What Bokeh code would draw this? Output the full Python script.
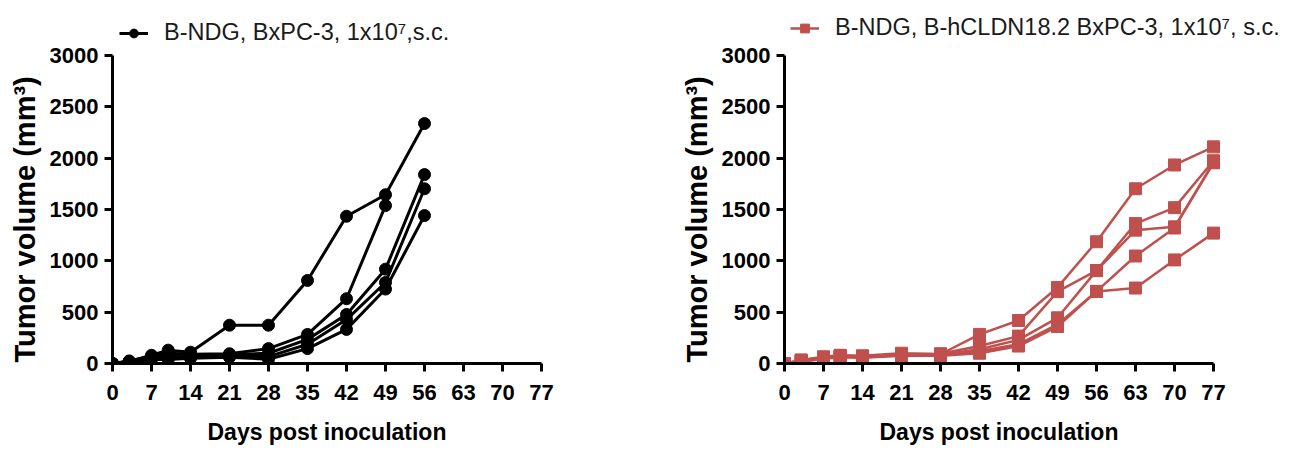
from bokeh.plotting import figure
from bokeh.models import FixedTicker, Legend, LegendItem, Title
from bokeh.layouts import row
from bokeh.embed import file_html
from bokeh.resources import INLINE

nan = float("nan")

# ---------------- data ----------------
days_left = [0, 3, 7, 10, 14, 21, 28, 35, 42, 49, 56]
left_a = [0, 20, 80, 130, 110, 373, 373, 809, 1434, 1644, 2337]
left_b = [0, 25, 70, 100, 90, 95, 145, 283, 631, 1538, nan]
left_c = [0, 15, 60, 80, 75, 85, 100, 235, 477, 919, 1840]
left_d = [0, 20, 50, 60, 65, 70, 67, 187, 428, 789, 1702]
left_e = [0, 10, 40, 40, 50, 60, 42, 145, 332, 725, 1441]

days_right = [0, 3, 7, 10, 14, 21, 28, 35, 42, 49, 56, 63, 70, 77]
right_a = [0, 35, 65, 80, 75, 100, 90, 283, 419, 741, 1186, 1702, 1934, 2110]
right_b = [0, 30, 60, 75, 70, 90, 95, 170, 267, 700, 905, 1363, 1518, 1975]
right_c = [0, 25, 55, 70, 65, 85, 85, 138, 230, 445, 905, 1299, 1331, 1955]
right_d = [0, 20, 50, 65, 60, 80, 80, 120, 187, 380, 702, 1047, 1320, 1960]
right_e = [0, 15, 45, 60, 55, 75, 75, 100, 170, 360, 702, 735, 1009, 1270]

x_ticks = [0, 7, 14, 21, 28, 35, 42, 49, 56, 63, 70, 77]
y_ticks = [0, 500, 1000, 1500, 2000, 2500, 3000]
x_max = 77
y_max = 3000

left_label = "B-NDG, BxPC-3, 1x10\u2077,s.c."
right_label = "B-NDG, B-hCLDN18.2 BxPC-3, 1x10\u2077, s.c."
x_title = "Days post inoculation"
y_title = "Tumor volume (mm\u00b3)"

FONT = "Liberation Sans"

AXIS_W = 429      # pixel width of the 0..77 axis
AXIS_H = 308      # pixel height of the 0..3000 axis
EXTRA = 42        # room above the axis (inside the frame) for the legend


def make(days, series, color, marker, label, left_border, right_border,
         extra_right, leg_x, leg_y, lw):
    frame_h = AXIS_H + EXTRA
    frame_w = AXIS_W + extra_right
    p = figure(frame_width=frame_w, frame_height=frame_h,
               x_range=(0, x_max * frame_w / AXIS_W),
               y_range=(0, y_max * frame_h / AXIS_H),
               output_backend="svg", toolbar_location=None,
               min_border_left=left_border, min_border_right=right_border,
               min_border_top=55 - EXTRA, min_border_bottom=85)
    p.xgrid.visible = False
    p.ygrid.visible = False
    p.outline_line_color = None
    p.background_fill_color = "white"
    p.border_fill_color = "white"

    p.xaxis.ticker = FixedTicker(ticks=x_ticks)
    p.yaxis.ticker = FixedTicker(ticks=y_ticks)
    p.xaxis.bounds = (0, x_max)
    p.yaxis.bounds = (0, y_max)
    for ax in (p.xaxis, p.yaxis):
        ax.axis_line_width = 3
        ax.axis_line_color = "black"
        ax.major_tick_line_width = 3
        ax.major_tick_line_color = "black"
        ax.major_tick_out = 8
        ax.major_tick_in = 0
        ax.minor_tick_out = 0
        ax.minor_tick_in = 0
        ax.major_label_text_font = FONT
        ax.major_label_text_font_size = "22px"
        ax.major_label_text_font_style = "bold"
        ax.major_label_text_color = "black"
    p.xaxis.major_label_standoff = 13
    p.yaxis.major_label_standoff = 6

    # axis titles as side titles so they sit under/next to the 0..77 / 0..3000 axes
    xt = Title(text=x_title, align="left", offset=95, standoff=28,
               text_font=FONT, text_font_style="bold", text_font_size="23px",
               text_color="black")
    p.add_layout(xt, "below")
    yt = Title(text=y_title, align="left", offset=1, standoff=12,
               text_font=FONT, text_font_style="bold", text_font_size="29px",
               text_color="black")
    p.add_layout(yt, "left")

    first = None
    for vals in series:
        lr = p.line(days, vals, line_color=color, line_width=lw)
        sr = p.scatter(days, vals, marker=marker, size=12, fill_color=color, line_color=color)
        if first is None:
            first = [lr, sr]

    leg = Legend(items=[LegendItem(label=label, renderers=first)],
                 location=(leg_x, leg_y), orientation="horizontal",
                 border_line_color=None, background_fill_alpha=0,
                 padding=0, margin=0, spacing=0,
                 glyph_width=29, glyph_height=22, label_standoff=16,
                 label_text_font=FONT, label_text_font_size="23.5px",
                 label_text_color="#1a1a1a")
    p.add_layout(leg)
    return p


p1 = make(days_left, [left_a, left_b, left_c, left_d, left_e], "black", "circle",
          left_label, 104, 131, 0, 7, 317, 3)
p2 = make(days_right, [right_a, right_b, right_c, right_d, right_e], "#C0504D", "square",
          right_label, 104, 2, 76, 6, 322, 2.5)

layout = row(p1, p2)
open("out.html", "w").write(file_html(layout, INLINE))
